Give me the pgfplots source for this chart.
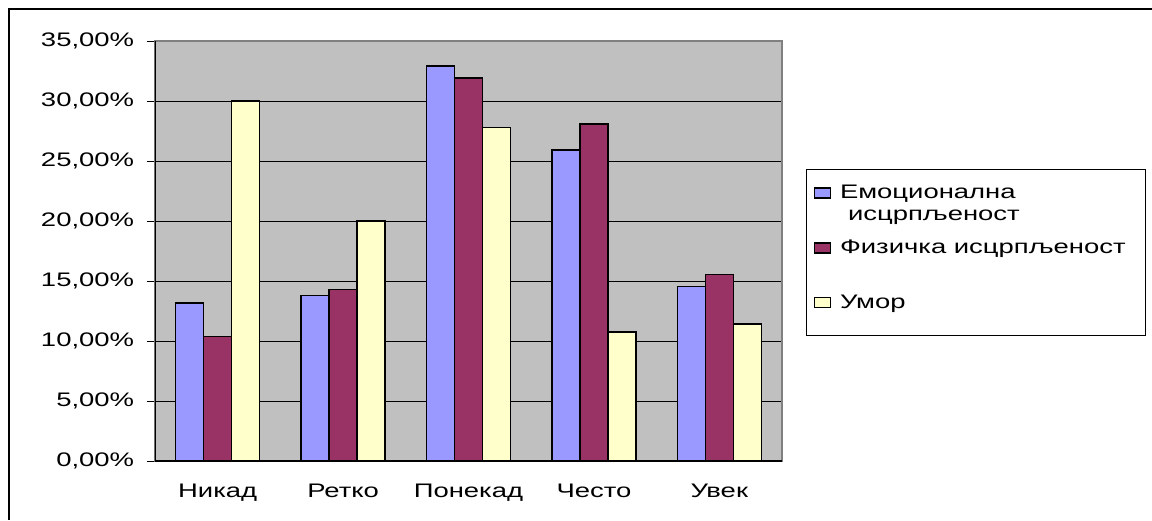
\documentclass[border=0pt]{standalone}
\usepackage{pgfplots}
\pgfplotsset{compat=1.18}
\usepackage{fontspec}
\setmainfont{Liberation Sans}[FakeStretch=1.4]
\definecolor{cblue}{HTML}{9999FF}
\definecolor{cpurple}{HTML}{993366}
\definecolor{cyellow}{HTML}{FFFFCC}
\definecolor{cgray}{HTML}{C0C0C0}
\definecolor{cborder}{HTML}{808080}
\newcommand\lent[2]{\parbox[t]{148pt}{\strut#1\newline#2}}
\begin{document}
\fontsize{9.8pt}{11pt}\selectfont
\begin{tikzpicture}
\useasboundingbox (0,0) rectangle (576pt,260pt);
\draw[line width=1.2pt] (4.5pt,0) -- (4.5pt,255.5pt) -- (576pt,255.5pt);
\begin{axis}[
  at={(77.5pt,29.5pt)}, anchor=south west,
  scale only axis, width=313.5pt, height=210pt,
  xmin=-0.5, xmax=4.5, ymin=0, ymax=35,
  ybar=0pt, bar width=14pt,
  axis background/.style={fill=cgray},
  axis line style={cborder, line width=0.6pt},
  ytick={0,5,...,35},
  yticklabels={{0,00\%},{5,00\%},{10,00\%},{15,00\%},{20,00\%},{25,00\%},{30,00\%},{35,00\%}},
  yticklabel style={xshift=-3pt},
  ymajorgrids, grid style={black, line width=0.5pt},
  tick align=outside, major tick length=4pt,
  tick style={black, line width=0.5pt},
  xtick pos=bottom, ytick pos=left,
  xtick={0,...,4}, xticklabels={Никад,Ретко,Понекад,Често,Увек},
  xtick style={draw=none},
  extra x ticks={-0.5,0.5,1.5,2.5,3.5,4.5},
  extra x tick labels={},
  extra x tick style={tick style={draw=black}, grid=none},
  xticklabel style={anchor=base, yshift=-14pt},
  every tick label/.append style={font=\fontsize{9.8pt}{11pt}\selectfont},
  every axis plot/.append style={draw=black, line width=0.75pt},
  legend style={at={(1.0383,0.6953)}, anchor=north west, draw=black, line width=0.5pt, fill=white,
    inner sep=3.5pt, row sep=6.45pt, column sep=3.5pt, nodes={inner sep=1pt, text depth=8.8pt},
    cells={anchor=base west},
    font=\fontsize{9.8pt}{11pt}\selectfont},
  legend image code/.code={\path[draw=none,fill=none] (0pt,-9.8pt) rectangle (0pt,11.2pt);\draw[#1] (0pt,0.5pt) rectangle (8pt,5.5pt);},
]
\addplot[fill=cblue] coordinates {(0,13.16) (1,13.8) (2,32.9) (3,25.9) (4,14.55)};
\addplot[fill=cpurple] coordinates {(0,10.38) (1,14.3) (2,31.9) (3,28.07) (4,15.55)};
\addplot[fill=cyellow] coordinates {(0,30.0) (1,20.0) (2,27.8) (3,10.74) (4,11.41)};
\addlegendentry{\lent{Емоционална}{\hspace*{4pt}исцрпљеност\strut}}
\addlegendentry{\lent{Физичка исцрпљеност}{\strut}}
\addlegendentry{\lent{Умор}{\rule{0pt}{0pt}}}
\draw[black, line width=0.6pt] (rel axis cs:0,1) -- (rel axis cs:0,0) -- (rel axis cs:1,0);
\end{axis}
\end{tikzpicture}
\end{document}
